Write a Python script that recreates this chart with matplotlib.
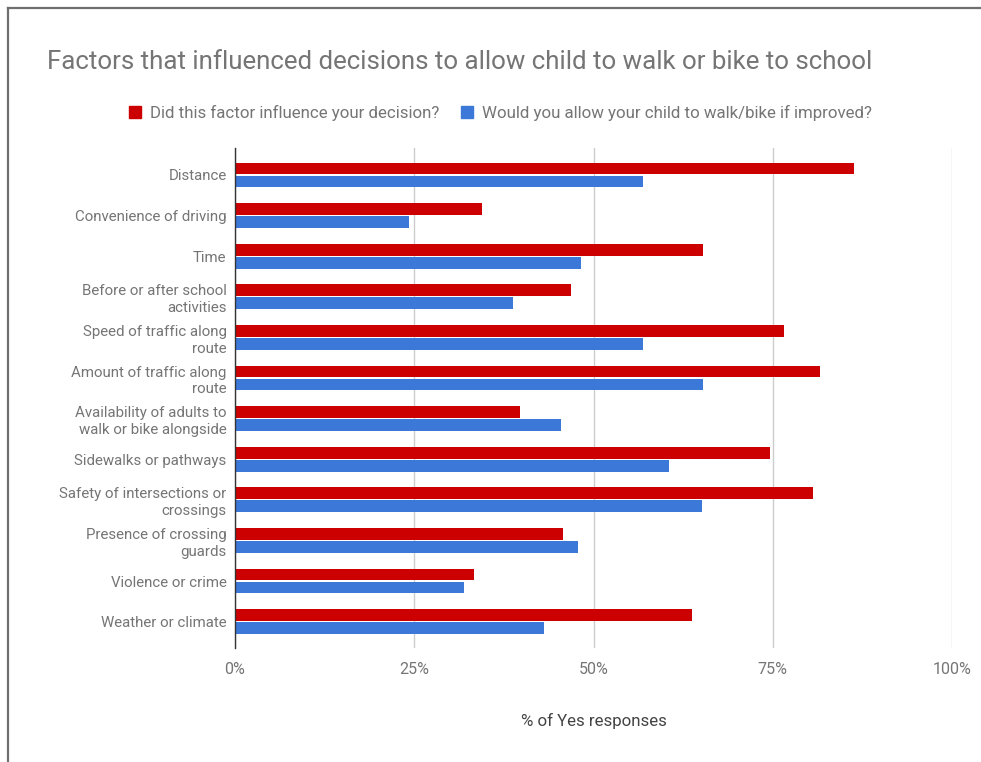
import matplotlib
matplotlib.use("Agg")
import matplotlib.pyplot as plt
from matplotlib.lines import Line2D
import numpy as np

# Data (% of Yes responses)
categories = [
    "Distance",
    "Convenience of driving",
    "Time",
    "Before or after school\nactivities",
    "Speed of traffic along\nroute",
    "Amount of traffic along\nroute",
    "Availability of adults to\nwalk or bike alongside",
    "Sidewalks or pathways",
    "Safety of intersections or\ncrossings",
    "Presence of crossing\nguards",
    "Violence or crime",
    "Weather or climate",
]
influenced = [86.4, 34.4, 65.3, 46.9, 76.5, 81.6, 39.7, 74.6, 80.6, 45.7, 33.4, 63.8]
if_improved = [56.9, 24.3, 48.2, 38.8, 56.9, 65.3, 45.4, 60.5, 65.2, 47.9, 31.9, 43.1]
series_names = ["Did this factor influence your decision?",
                "Would you allow your child to walk/bike if improved?"]
xticks = [0, 25, 50, 75, 100]
xtick_labels = ["0%", "25%", "50%", "75%", "100%"]

RED = "#cc0000"
BLUE = "#3c78d8"
GRAY = "#757575"

plt.rcParams["font.family"] = ["Roboto", "DejaVu Sans"]

W, H = 981, 762
fig = plt.figure(figsize=(W / 100, H / 100), dpi=100)

# axes placed in pixel terms
left, right, top, bottom = 235, 952, 148, 648
ax = fig.add_axes([left / W, 1 - bottom / H, (right - left) / W, (bottom - top) / H])

y = np.arange(len(categories))
bh = 0.29
ax.barh(y - 0.16, influenced, height=bh, color=RED, zorder=3)
ax.barh(y + 0.16, if_improved, height=bh, color=BLUE, zorder=3)

ax.set_xlim(0, 100)
ax.set_ylim(11.65, -0.665)
ax.set_xticks(xticks)
ax.set_xticklabels(xtick_labels, fontsize=11.5, color=GRAY)
ax.set_yticks(y)
ax.set_yticklabels(categories, fontsize=10.8, color=GRAY, linespacing=1.25)
ax.tick_params(axis="both", length=0)
ax.tick_params(axis="x", pad=10)
ax.tick_params(axis="y", pad=6)
ax.xaxis.grid(True, color="#cccccc", linewidth=1, zorder=0)
for s in ["top", "right", "bottom"]:
    ax.spines[s].set_visible(False)
ax.spines["left"].set_color("#333333")
ax.spines["left"].set_linewidth(1)
ax.spines["left"].set_zorder(4)

ax.set_xlabel("% of Yes responses", fontsize=12.2, color="#444444", labelpad=26)

fig.text(47 / W, 1 - 62 / H, "Factors that influenced decisions to allow child to walk or bike to school",
         fontsize=18.6, color=GRAY, va="center", ha="left")

handles = [Line2D([], [], marker="s", linestyle="none", markersize=9, color=RED),
           Line2D([], [], marker="s", linestyle="none", markersize=9, color=BLUE)]
leg = fig.legend(handles, series_names, loc="center", bbox_to_anchor=(500 / W, 1 - 113 / H),
                 ncol=2, frameon=False, fontsize=12.2, handlelength=0.8, handletextpad=0.5,
                 columnspacing=1.2, labelcolor=GRAY)

# screenshot border (left and top)
fig.add_artist(Line2D([8 / W, 8 / W], [0, 1 - 8 / H], color="#6f6f6f", linewidth=1.6))
fig.add_artist(Line2D([8 / W, 1], [1 - 8 / H, 1 - 8 / H], color="#6f6f6f", linewidth=1.6))

fig.savefig("out.png", dpi=100, facecolor="white")
